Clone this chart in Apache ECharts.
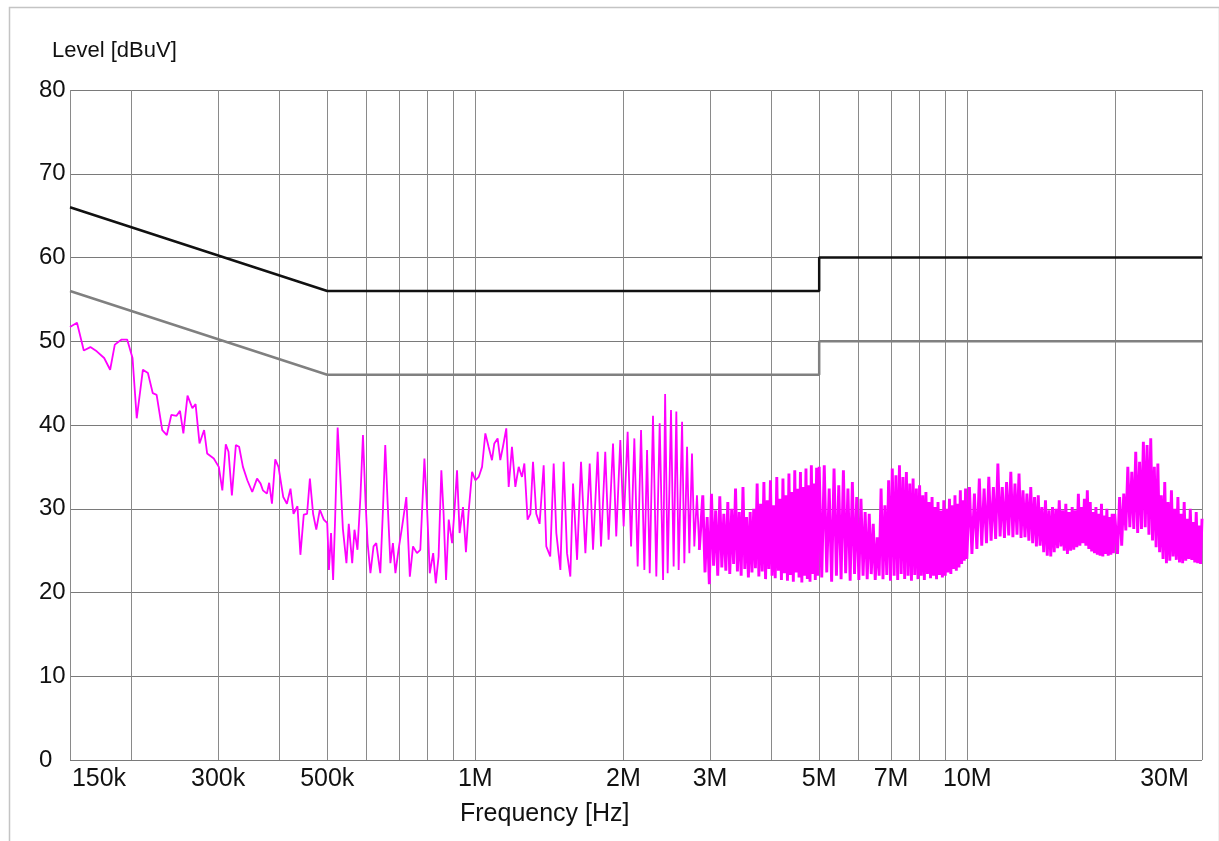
<!DOCTYPE html>
<html>
<head>
<meta charset="utf-8">
<title>Level vs Frequency</title>
<script src="https://cdn.jsdelivr.net/npm/echarts@6/dist/echarts.min.js"></script>
<style>
  html, body { margin: 0; padding: 0; background: #fff; }
  #chart { width: 1219px; height: 841px; }
</style>
</head>
<body>
<div id="chart"></div>
<script>
// all frequencies in MHz, levels in dBuV
var gridFreqs = [0.15, 0.2, 0.3, 0.4, 0.5, 0.6, 0.7, 0.8, 0.9, 1, 2, 3, 4, 5, 6, 7, 8, 9, 10, 20, 30];
var labelFreqs = [0.15, 0.3, 0.5, 1, 2, 3, 5, 7, 10, 30];
var labelTexts = ["150k", "300k", "500k", "1M", "2M", "3M", "5M", "7M", "10M", "30M"];

var qpLimit = [[0.15, 66], [0.5, 56], [5, 56], [5, 60], [30, 60]];
var avLimit = [[0.15, 56], [0.5, 46], [5, 46], [5, 50], [30, 50]];

var traceLow = [[0.150,51.7],[0.155,52.2],[0.160,48.9],[0.165,49.3],[0.170,48.8],[0.176,48.0],[0.181,46.6],[0.185,49.6],[0.191,50.2],[0.196,50.2],[0.201,48.0],[0.205,40.8],[0.211,46.6],[0.216,46.2],[0.221,43.8],[0.225,43.6],[0.231,39.4],[0.236,38.8],[0.241,41.2],[0.247,41.1],[0.251,41.7],[0.255,39.0],[0.260,43.5],[0.266,42.0],[0.270,42.5],[0.275,37.8],[0.281,39.4],[0.285,36.6],[0.294,36.0],[0.301,35.0],[0.306,32.2],[0.311,37.7],[0.315,36.8],[0.320,31.6],[0.326,37.6],[0.331,37.4],[0.337,35.0],[0.344,33.4],[0.352,32.0],[0.360,33.6],[0.366,33.0],[0.370,32.2],[0.377,31.8],[0.381,33.1],[0.386,30.6],[0.392,35.9],[0.398,35.0],[0.407,31.4],[0.414,30.6],[0.421,32.4],[0.427,29.4],[0.435,30.3],[0.441,24.5],[0.448,29.3],[0.455,29.4],[0.461,33.6],[0.468,29.4],[0.475,27.5],[0.483,29.9],[0.492,28.7],[0.500,28.3],[0.504,22.7],[0.509,27.1],[0.514,21.5],[0.519,29.1],[0.525,39.7]];

var traceMid = [[0.532,33.4],[0.538,27.6],[0.547,23.5],[0.553,28.2],[0.562,23.5],[0.568,27.5],[0.576,25.1],[0.584,31.4],[0.591,38.8],[0.598,31.0],[0.604,25.9],[0.612,22.3],[0.621,25.5],[0.629,25.9],[0.641,22.3],[0.649,29.9],[0.656,37.6],[0.663,31.0],[0.672,23.5],[0.680,25.9],[0.688,22.3],[0.698,25.1],[0.710,27.9],[0.724,31.4],[0.736,21.9],[0.747,25.5],[0.761,24.7],[0.773,25.1],[0.788,36.0],[0.798,29.9],[0.808,22.3],[0.821,24.7],[0.831,21.1],[0.842,24.3],[0.853,34.6],[0.862,29.4],[0.872,21.5],[0.883,28.7],[0.897,25.9],[0.908,30.2],[0.918,34.6],[0.929,27.1],[0.944,30.2],[0.957,24.8],[0.969,29.6],[0.985,34.4],[1.000,33.4],[1.016,33.8],[1.032,35.0],[1.048,39.0],[1.064,37.4],[1.081,35.8],[1.093,37.8],[1.110,38.4],[1.124,35.8],[1.138,37.4],[1.156,39.6],[1.169,32.6],[1.187,37.4],[1.206,32.6],[1.225,35.0],[1.244,33.8],[1.258,35.4],[1.277,28.7],[1.294,29.4],[1.310,35.6],[1.330,29.4],[1.351,28.2],[1.377,35.2],[1.394,25.5],[1.420,24.3],[1.443,35.4],[1.461,27.1],[1.489,22.7],[1.512,35.6],[1.536,24.7],[1.560,21.9],[1.580,33.0],[1.610,23.9],[1.640,35.6],[1.674,24.7],[1.708,35.4],[1.735,25.1],[1.773,36.8],[1.801,25.5],[1.837,36.8],[1.866,26.3],[1.905,37.8],[1.934,26.7],[1.971,38.2],[2.002,27.9],[2.040,39.2],[2.073,25.5],[2.105,38.4],[2.138,23.1],[2.172,39.4],[2.206,22.7],[2.234,37.0],[2.262,22.3],[2.297,41.1],[2.333,21.9],[2.370,40.2],[2.408,21.5],[2.431,43.7],[2.460,22.3],[2.499,41.8],[2.530,23.1],[2.562,41.6],[2.590,22.7],[2.632,40.4],[2.660,23.5],[2.694,37.4],[2.723,24.7],[2.757,36.6],[2.787,25.5],[2.822,31.6],[2.853,25.1]];

var trace3to10 = [[2.90,31.6],[2.93,22.4],[2.96,29.0],[2.99,21.0],[3.02,31.8],[3.05,23.2],[3.08,29.8],[3.11,22.0],[3.14,31.5],[3.17,23.0],[3.20,29.4],[3.23,22.6],[3.26,30.8],[3.29,22.2],[3.32,30.0],[3.35,23.4],[3.38,32.4],[3.41,22.5],[3.44,29.6],[3.47,22.0],[3.50,32.6],[3.53,22.8],[3.56,29.0],[3.59,21.8],[3.62,29.6],[3.65,22.4],[3.68,30.0],[3.71,22.9],[3.74,33.0],[3.77,21.9],[3.80,30.6],[3.83,22.5],[3.86,33.2],[3.89,21.6],[3.92,31.0],[3.95,22.8],[3.98,33.4],[4.01,22.0],[4.04,30.4],[4.07,21.7],[4.10,33.8],[4.13,22.6],[4.16,31.2],[4.19,21.5],[4.22,33.6],[4.25,22.3],[4.28,31.6],[4.31,21.4],[4.34,34.2],[4.37,22.1],[4.40,32.0],[4.43,21.3],[4.46,34.6],[4.49,22.4],[4.52,32.4],[4.55,21.8],[4.58,34.4],[4.61,21.2],[4.64,32.6],[4.67,22.0],[4.70,34.8],[4.73,21.6],[4.76,32.8],[4.79,21.3],[4.82,35.2],[4.85,22.2],[4.88,33.0],[4.91,21.5],[4.94,34.9],[4.97,22.0],[5.00,35.0],
  [5.06,21.8],[5.12,35.2],[5.18,22.4],[5.24,32.4],[5.30,21.3],[5.36,34.8],[5.42,22.0],[5.48,32.8],[5.54,21.6],[5.60,34.6],[5.66,22.3],[5.72,32.4],[5.78,21.4],[5.84,33.2],[5.90,22.2],[5.96,31.4],[6.02,21.5],[6.08,31.2],[6.14,22.0],[6.20,29.6],[6.26,21.6],[6.32,29.4],[6.38,22.2],[6.44,28.2],[6.50,21.5],[6.56,26.6],[6.62,22.0],[6.68,32.4],[6.74,21.6],[6.80,30.4],[6.86,22.1],[6.92,33.4],[6.98,21.4],[7.04,34.8],[7.10,22.0],[7.16,34.0],[7.22,21.5],[7.28,35.2],[7.34,22.2],[7.40,33.8],[7.46,21.6],[7.52,34.4],[7.58,22.0],[7.64,33.0],[7.70,21.4],[7.76,33.6],[7.82,22.1],[7.88,32.4],[7.94,21.6],[8.00,32.8],[8.06,22.0],[8.12,31.6],[8.18,21.5],[8.24,32.0],[8.30,22.2],[8.36,30.8],[8.42,21.7],[8.48,31.4],[8.54,22.0],[8.60,30.2],[8.66,21.6],[8.72,30.8],[8.78,22.1],[8.84,29.8],[8.90,21.8],[8.96,31.0],[9.02,22.0],[9.08,30.0],[9.14,22.4],[9.20,31.2],[9.26,22.2],[9.32,30.4],[9.38,22.8],[9.44,31.6],[9.50,22.6],[9.56,30.6],[9.62,23.0],[9.68,32.2],[9.74,23.4],[9.80,31.0],[9.86,23.8],[9.92,32.4],[9.98,24.0]];

var trace10to30 = [[10.10,32.6],[10.22,24.6],[10.34,31.8],[10.46,25.2],[10.58,33.6],[10.70,25.6],[10.82,32.4],[10.94,25.9],[11.06,33.8],[11.18,26.2],[11.30,32.6],[11.42,26.4],[11.54,35.4],[11.66,26.7],[11.78,32.6],[11.90,26.5],[12.02,33.2],[12.14,26.8],[12.26,34.4],[12.38,26.6],[12.50,33.0],[12.62,26.9],[12.74,34.2],[12.86,26.5],[12.98,32.2],[13.10,26.6],[13.22,31.8],[13.34,26.2],[13.46,32.6],[13.58,25.9],[13.70,31.4],[13.82,25.5],[13.94,31.6],[14.06,25.6],[14.18,30.2],[14.30,24.8],[14.42,31.0],[14.54,24.4],[14.66,29.8],[14.78,24.3],[14.90,30.2],[15.02,24.8],[15.14,30.0],[15.26,25.3],[15.38,31.0],[15.50,25.5],[15.62,29.8],[15.74,25.0],[15.86,30.6],[15.98,24.6],[16.10,29.6],[16.22,25.0],[16.34,30.2],[16.46,25.1],[16.58,29.8],[16.70,25.4],[16.82,31.8],[16.94,25.6],[17.06,30.2],[17.18,25.9],[17.30,31.2],[17.42,25.6],[17.54,32.2],[17.66,25.2],[17.78,30.8],[17.90,24.9],[18.02,29.6],[18.14,24.7],[18.26,30.2],[18.38,24.5],[18.50,29.4],[18.62,24.4],[18.74,30.6],[18.86,24.3],[18.98,29.2],[19.10,24.6],[19.22,30.0],[19.34,24.4],[19.46,29.0],[19.58,24.5],[19.70,29.4],[19.82,24.7],[19.94,29.4],
  [20.20,24.6],[20.40,31.4],[20.60,25.6],[20.80,31.8],[21.00,27.4],[21.20,35.0],[21.40,27.8],[21.60,34.4],[21.80,27.6],[22.00,36.8],[22.20,27.1],[22.40,35.6],[22.60,27.6],[22.80,38.0],[23.00,27.8],[23.20,37.6],[23.40,26.9],[23.60,38.4],[23.80,26.2],[24.00,35.0],[24.20,25.4],[24.40,35.4],[24.60,24.8],[24.80,31.6],[25.00,24.0],[25.20,33.2],[25.40,23.5],[25.60,30.8],[25.80,23.8],[26.00,32.2],[26.20,24.3],[26.40,30.0],[26.60,23.9],[26.80,31.4],[27.00,23.6],[27.20,29.4],[27.40,23.5],[27.60,30.8],[27.80,23.8],[28.00,28.8],[28.20,24.0],[28.40,30.0],[28.60,23.9],[28.80,28.4],[29.00,23.6],[29.20,29.6],[29.40,23.5],[29.60,28.0],[29.80,23.4],[30.00,28.8]];

// the clean sweep below 2.9 MHz and the dense band above it
var traceClean = traceLow.concat(traceMid);
var traceDense = [traceMid[traceMid.length - 1]].concat(trace3to10, trace10to30);

function toLog(points) {
  return points.map(function (p) { return [Math.log10(p[0]), p[1]]; });
}

function labelIndex(v) {
  for (var i = 0; i < labelFreqs.length; i++) {
    if (Math.abs(Math.log10(labelFreqs[i]) - v) < 1e-6) return i;
  }
  return -1;
}

var chart = echarts.init(document.getElementById("chart"));
var fontName = "Liberation Sans";

var option = {
  animation: false,
  backgroundColor: "#fff",
  title: [
    {
      text: "Level [dBuV]",
      left: 47,
      top: 35,
      textStyle: { fontFamily: fontName, fontSize: 22, fontWeight: "normal", color: "#111" }
    },
    {
      text: "Frequency [Hz]",
      left: 455,
      top: 797,
      textStyle: { fontFamily: fontName, fontSize: 25, fontWeight: "normal", color: "#111" }
    }
  ],
  grid: { left: 70, right: 17, top: 90, bottom: 81 },
  xAxis: {
    type: "value",
    min: Math.log10(0.15),
    max: Math.log10(30),
    axisLine: { show: false },
    axisTick: {
      show: false,
      customValues: gridFreqs.map(function (f) { return Math.log10(f); })
    },
    splitLine: { show: true, lineStyle: { color: "#8a8a8a", width: 1 } },
    axisLabel: {
      customValues: labelFreqs.map(function (f) { return Math.log10(f); }),
      margin: 7,
      fontFamily: fontName,
      fontSize: 25,
      color: "#111",
      formatter: function (v) {
        var i = labelIndex(v);
        if (i < 0) return "";
        if (i === 0) return "{first|" + labelTexts[i] + "}";
        if (i === labelTexts.length - 1) return "{last|" + labelTexts[i] + "}";
        return labelTexts[i];
      },
      rich: {
        first: { fontFamily: fontName, fontSize: 25, color: "#111", padding: [0, 0, 0, 58] },
        last: { fontFamily: fontName, fontSize: 25, color: "#111", padding: [0, 75, 0, 0] }
      }
    }
  },
  yAxis: {
    type: "value",
    min: 0,
    max: 80,
    interval: 10,
    axisLine: { show: false },
    axisTick: { show: false },
    splitLine: { show: true, lineStyle: { color: "#7a7a7a", width: 1 } },
    axisLabel: { margin: 31, align: "left", fontFamily: fontName, fontSize: 24, color: "#111" }
  },
  graphic: [
    {
      type: "rect",
      left: 7,
      top: 5,
      shape: { width: 1210, height: 860 },
      style: { fill: "none", stroke: "#c4c4c4", lineWidth: 1.5 },
      silent: true
    }
  ],
  series: [
    {
      name: "AV limit",
      type: "line",
      data: toLog(avLimit),
      showSymbol: false,
      lineStyle: { color: "#808080", width: 2.5 },
      z: 3
    },
    {
      name: "QP limit",
      type: "line",
      data: toLog(qpLimit),
      showSymbol: false,
      lineStyle: { color: "#111", width: 2.5 },
      z: 3
    },
    {
      name: "Level",
      type: "line",
      data: toLog(traceClean),
      showSymbol: false,
      lineStyle: { color: "#ff00ff", width: 1.8 },
      z: 4
    },
    {
      name: "Level dense",
      type: "line",
      data: toLog(traceDense),
      showSymbol: false,
      lineStyle: { color: "#ff00ff", width: 2.9, join: "bevel" },
      z: 4
    }
  ]
};

chart.setOption(option);
window.addEventListener("resize", function () {
  chart.resize();
});
</script>
</body>
</html>
